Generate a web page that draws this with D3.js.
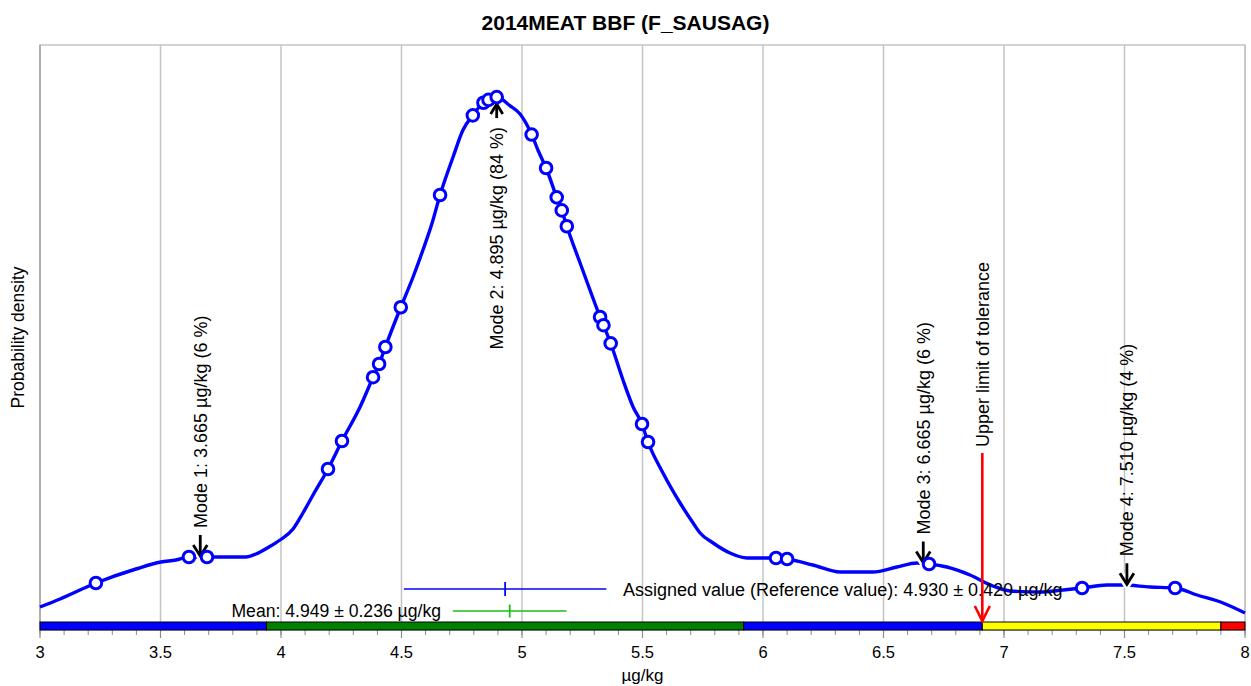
<!DOCTYPE html>
<html>
<head>
<meta charset="utf-8">
<script src="https://cdn.jsdelivr.net/npm/d3@7"></script>
<style>
  html, body { margin: 0; padding: 0; background: #fff; }
  svg { display: block; font-family: "Liberation Sans", Arial, Helvetica, sans-serif; }
</style>
</head>
<body>
<svg id="chart" width="1251" height="686"></svg>
<script>
// Kernel density of participant results (x in µg/kg, density in arbitrary units)
const curveX = [3.000,3.083,3.232,3.398,3.502,3.564,3.618,3.689,3.855,3.896,3.950,3.996,4.050,4.091,4.133,4.195,4.253,4.328,4.386,4.407,4.436,4.494,4.548,4.589,4.627,4.660,4.714,4.755,4.797,4.838,4.859,4.896,4.946,4.992,5.041,5.066,5.100,5.145,5.166,5.187,5.241,5.282,5.324,5.336,5.369,5.419,5.461,5.498,5.523,5.585,5.656,5.710,5.739,5.793,5.863,5.934,6.054,6.100,6.207,6.320,6.456,6.556,6.639,6.689,6.763,6.859,6.954,7.025,7.149,7.245,7.324,7.427,7.494,7.606,7.710,7.801,7.909,8.000];
const curveD = [0.046,0.062,0.094,0.122,0.136,0.140,0.146,0.146,0.146,0.152,0.166,0.180,0.202,0.234,0.270,0.322,0.378,0.446,0.510,0.532,0.570,0.642,0.706,0.760,0.814,0.870,0.946,1.000,1.030,1.054,1.060,1.066,1.050,1.032,0.990,0.960,0.924,0.864,0.838,0.806,0.734,0.680,0.626,0.612,0.572,0.500,0.446,0.412,0.376,0.314,0.254,0.214,0.194,0.174,0.154,0.144,0.144,0.142,0.130,0.116,0.116,0.126,0.134,0.132,0.126,0.110,0.088,0.078,0.076,0.080,0.084,0.090,0.090,0.086,0.084,0.070,0.054,0.034];

// Individual laboratory results
const results = [3.232,3.618,3.693,4.195,4.253,4.382,4.407,4.433,4.497,4.660,4.796,4.840,4.861,4.895,5.040,5.100,5.144,5.165,5.186,5.324,5.338,5.368,5.498,5.523,6.054,6.100,6.689,7.324,7.710];

// Modes of the density
const modeValues = [3.665, 4.895, 6.665, 7.510];
const modeShares = [6, 84, 6, 4];
const modeBelow  = [false, true, false, false];

// Assigned value and robust mean
const assignedValue = 4.930, assignedU = 0.420;
const meanValue = 4.949, meanU = 0.236;
const upperTolerance = 6.910;

// Colour zones along the axis (z-score bands)
const zoneBreaks = [3.00, 3.94, 5.92, 6.91, 7.90, 8.00];
const zoneColors = ["#0000ff", "#008000", "#0000ff", "#ffff00", "#ff0000"];

const xTicksMajor = [3, 3.5, 4, 4.5, 5, 5.5, 6, 6.5, 7, 7.5, 8];
const xTicksMinor = d3.range(30, 81).map(v => v / 10);

const title = "2014MEAT BBF (F_SAUSAG)";
const xTitle = "µg/kg";
const yTitle = "Probability density";

const W = 1251, H = 686;
const plot = { left: 40, right: 1245, top: 45, bottom: 630 };

const svg = d3.select("#chart");
const x = d3.scaleLinear().domain([3, 8]).range([plot.left, plot.right]);
const y = d3.scaleLinear().domain([0, 1.17]).range([plot.bottom, plot.top]);

const curve = curveX.map((v, i) => [v, curveD[i]]);
const bis = d3.bisector(d => d[0]).left;
function densityAt(v) {
  let i = bis(curve, v);
  if (i <= 0) return curve[0][1];
  if (i >= curve.length) return curve[curve.length - 1][1];
  const a = curve[i - 1], b = curve[i];
  const t = (v - a[0]) / (b[0] - a[0]);
  return a[1] + t * (b[1] - a[1]);
}

// Title
svg.append("text")
  .attr("x", W / 2).attr("y", 30)
  .attr("text-anchor", "middle")
  .attr("font-weight", "bold").attr("font-size", 21)
  .text(title);

// Frame and vertical grid
svg.append("rect")
  .attr("x", plot.left).attr("y", plot.top)
  .attr("width", plot.right - plot.left).attr("height", plot.bottom - plot.top)
  .attr("fill", "none").attr("stroke", "#c4c4c4").attr("stroke-width", 1.5);

svg.append("g").selectAll("line").data(xTicksMajor).join("line")
  .attr("x1", d => x(d)).attr("x2", d => x(d))
  .attr("y1", plot.top).attr("y2", plot.bottom)
  .attr("stroke", "#c4c4c4").attr("stroke-width", 1.5);

svg.append("line")
  .attr("x1", plot.left).attr("x2", plot.left)
  .attr("y1", plot.top).attr("y2", plot.bottom)
  .attr("stroke", "#a8a8a8").attr("stroke-width", 1.5);

// X axis ticks and labels
const axis = svg.append("g");
axis.selectAll("line.minor").data(xTicksMinor).join("line")
  .attr("class", "minor")
  .attr("x1", d => x(d)).attr("x2", d => x(d))
  .attr("y1", plot.bottom).attr("y2", plot.bottom + 5)
  .attr("stroke", "#8c8c8c").attr("stroke-width", 1);
axis.selectAll("line.major").data(xTicksMajor).join("line")
  .attr("class", "major")
  .attr("x1", d => x(d)).attr("x2", d => x(d))
  .attr("y1", plot.bottom).attr("y2", plot.bottom + 8)
  .attr("stroke", "#8c8c8c").attr("stroke-width", 1.2);
axis.selectAll("text").data(xTicksMajor).join("text")
  .attr("x", d => x(d)).attr("y", 658)
  .attr("text-anchor", "middle").attr("font-size", 16.5)
  .text(d => d3.format("~g")(d));

svg.append("text")
  .attr("x", (plot.left + plot.right) / 2).attr("y", 681)
  .attr("text-anchor", "middle").attr("font-size", 17)
  .text(xTitle);

svg.append("text")
  .attr("transform", `translate(24, ${(plot.top + plot.bottom) / 2}) rotate(-90)`)
  .attr("text-anchor", "middle").attr("font-size", 17.5)
  .text(yTitle);

// Colour zone bar
const zones = zoneColors.map((c, i) => ({ a: zoneBreaks[i], b: zoneBreaks[i + 1], c }));
svg.append("g").selectAll("rect").data(zones).join("rect")
  .attr("x", d => x(d.a)).attr("width", d => x(d.b) - x(d.a))
  .attr("y", plot.bottom - 8).attr("height", 8)
  .attr("fill", d => d.c).attr("stroke", "#000").attr("stroke-width", 1);

// Density curve
svg.append("path")
  .datum(curve)
  .attr("d", d3.line().x(d => x(d[0])).y(d => y(d[1])).curve(d3.curveMonotoneX))
  .attr("fill", "none").attr("stroke", "#0000ff").attr("stroke-width", 3.4)
  .attr("stroke-linejoin", "round");

// Mode markers (drawn under the result circles)
const modes = modeValues.map((v, i) => ({ v, p: modeShares[i], below: modeBelow[i], i }));
const mg = svg.append("g");
modes.forEach(m => {
  const cx = x(m.v);
  const cy = y(densityAt(m.v));
  const g = mg.append("g");
  let shaft, head, labelY, anchor;
  if (!m.below) {
    const tip = cy - 1, top = tip - 21;
    shaft = [[cx, top], [cx, tip]];
    head = [[cx - 7, tip - 11], [cx, tip], [cx + 7, tip - 11]];
    labelY = top - 7; anchor = "start";
  } else {
    const tip = cy + 7, bot = tip + 14;
    shaft = [[cx, bot], [cx, tip]];
    head = [[cx - 6, tip + 10], [cx, tip], [cx + 6, tip + 10]];
    labelY = bot + 9; anchor = "end";
  }
  const ln = d3.line();
  // white halo keeps the marker readable over the curve
  g.append("path").attr("d", ln(head)).attr("fill", "none")
    .attr("stroke", "#fff").attr("stroke-width", 8).attr("stroke-linecap", "round");
  g.append("path").attr("d", ln(shaft)).attr("fill", "none")
    .attr("stroke", "#000").attr("stroke-width", 2.8);
  g.append("path").attr("d", ln(head)).attr("fill", "none")
    .attr("stroke", "#000").attr("stroke-width", 2.8);
  g.append("text")
    .attr("transform", `translate(${cx + 6.5}, ${labelY}) rotate(-90)`)
    .attr("text-anchor", anchor).attr("font-size", 18)
    .text(`Mode ${m.i + 1}: ${m.v.toFixed(3)} µg/kg (${m.p} %)`);
});

// Results on the curve
svg.append("g").selectAll("circle").data(results).join("circle")
  .attr("cx", d => x(d)).attr("cy", d => y(densityAt(d)))
  .attr("r", 5.8)
  .attr("fill", "#fff").attr("stroke", "#0000ff").attr("stroke-width", 3);

// Assigned value with uncertainty
const av = svg.append("g").attr("stroke", "#0000ff").attr("stroke-width", 1.3);
const avY = 589;
av.append("line").attr("x1", x(assignedValue - assignedU)).attr("x2", x(assignedValue + assignedU))
  .attr("y1", avY).attr("y2", avY);
av.append("line").attr("x1", x(assignedValue)).attr("x2", x(assignedValue))
  .attr("y1", avY - 7).attr("y2", avY + 7).attr("stroke-width", 1.8);
svg.append("text")
  .attr("x", 623).attr("y", 596).attr("font-size", 18)
  .text(`Assigned value (Reference value): ${assignedValue.toFixed(3)} ± ${assignedU.toFixed(3)} µg/kg`);

// Mean with uncertainty
const mv = svg.append("g").attr("stroke", "#1bbf1b").attr("stroke-width", 1.3);
const mY = 611;
mv.append("line").attr("x1", x(meanValue - meanU)).attr("x2", x(meanValue + meanU))
  .attr("y1", mY).attr("y2", mY);
mv.append("line").attr("x1", x(meanValue)).attr("x2", x(meanValue))
  .attr("y1", mY - 6.5).attr("y2", mY + 6.5).attr("stroke-width", 1.8);
svg.append("text")
  .attr("x", 441).attr("y", 617).attr("text-anchor", "end").attr("font-size", 17.6)
  .text(`Mean: ${meanValue.toFixed(3)} ± ${meanU.toFixed(3)} µg/kg`);

// Upper limit of tolerance
const ux = x(upperTolerance);
const ug = svg.append("g").attr("stroke", "#ff0000").attr("stroke-width", 2.6).attr("fill", "none");
ug.append("line").attr("x1", ux).attr("x2", ux).attr("y1", 453).attr("y2", plot.bottom - 9);
ug.append("path").attr("d", d3.line()([[ux - 7.5, plot.bottom - 24], [ux, plot.bottom - 9], [ux + 7.5, plot.bottom - 24]]));
svg.append("text")
  .attr("transform", `translate(${ux + 6.5}, 447) rotate(-90)`)
  .attr("font-size", 18)
  .text("Upper limit of tolerance");
</script>
</body>
</html>
